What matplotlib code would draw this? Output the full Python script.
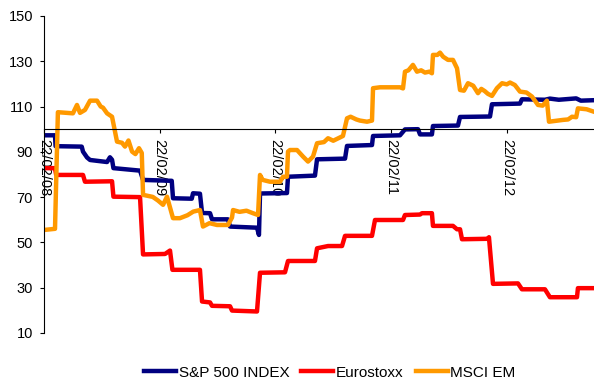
import matplotlib
matplotlib.use('Agg')
import matplotlib.pyplot as plt

plt.rcParams['font.family'] = ['Liberation Sans', 'DejaVu Sans']

# x = years since 22/02/08
tick_labels = ['22/02/08', '22/02/09', '22/02/10', '22/02/11', '22/02/12']
tick_pos = [0, 1, 2, 3, 4]

spx_t = [0, 0.095, 0.10, 0.326, 0.337, 0.372, 0.398, 0.545, 0.570, 0.588, 0.60, 0.830, 0.856,
         1.104, 1.115, 1.277, 1.288, 1.348, 1.366, 1.435, 1.452, 1.590, 1.608, 1.841, 1.858,
         1.867, 2.100, 2.109, 2.342, 2.360, 2.602, 2.619, 2.835, 2.844, 3.077, 3.120, 3.233,
         3.250, 3.353, 3.362, 3.578, 3.596, 3.855, 3.872, 4.114, 4.131, 4.330, 4.373, 4.45,
         4.60, 4.64, 4.754]
spx_v = [97.3, 97.3, 92.5, 92.3, 90.1, 87.5, 86.4, 85.5, 87.6, 86.5, 82.8, 81.7, 77.6,
         77.2, 69.5, 69.3, 71.7, 71.5, 63.0, 62.9, 60.2, 60.2, 57.0, 56.5, 53.3,
         71.6, 71.8, 79.0, 79.5, 86.7, 87.0, 92.6, 93.0, 97.0, 97.3, 99.9, 100.0,
         97.7, 97.7, 101.4, 101.6, 105.4, 105.6, 111.0, 111.3, 113.2, 113.0, 113.5, 113.0,
         113.6, 112.6, 112.8]

euro_t = [0, 0.095, 0.105, 0.337, 0.354, 0.588, 0.60, 0.830, 0.856, 1.046, 1.089, 1.110,
          1.348, 1.366, 1.435, 1.452, 1.608, 1.625, 1.841, 1.867, 2.083, 2.109, 2.342, 2.360,
          2.455, 2.576, 2.602, 2.835, 2.861, 3.103, 3.120, 3.250, 3.267, 3.353, 3.362, 3.535,
          3.570, 3.596, 3.613, 3.837, 3.846, 3.881, 4.097, 4.131, 4.330, 4.373, 4.607, 4.615,
          4.754]
euro_v = [82.8, 82.8, 79.8, 79.8, 76.8, 77.0, 70.2, 70.0, 44.7, 44.9, 46.4, 37.9,
          37.9, 23.9, 23.5, 22.0, 21.8, 19.9, 19.5, 36.6, 36.8, 41.8, 41.8, 47.4,
          48.4, 48.4, 52.9, 52.9, 59.9, 59.9, 62.1, 62.3, 62.9, 62.9, 57.3, 57.3,
          55.8, 55.8, 51.4, 51.6, 52.3, 31.7, 31.9, 29.3, 29.3, 25.8, 25.8, 29.8,
          29.8]

em_t = [0, 0.095, 0.12, 0.25, 0.285, 0.311, 0.354, 0.398, 0.458, 0.49, 0.51, 0.545, 0.588,
        0.631, 0.674, 0.70, 0.73, 0.761, 0.79, 0.821, 0.845, 0.856, 0.94, 0.985, 1.029, 1.063,
        1.115, 1.175, 1.24, 1.29, 1.348, 1.374, 1.43, 1.495, 1.590, 1.625, 1.634, 1.69, 1.75,
        1.806, 1.850, 1.867, 1.89, 1.953, 2.040, 2.066, 2.100, 2.109, 2.126, 2.187, 2.239,
        2.282, 2.325, 2.360, 2.42, 2.455, 2.50, 2.584, 2.619, 2.65, 2.70, 2.731, 2.792, 2.835,
        2.844, 2.904, 3.077, 3.103, 3.120, 3.15, 3.189, 3.224, 3.26, 3.293, 3.33, 3.353, 3.362,
        3.40, 3.423, 3.45, 3.492, 3.535, 3.570, 3.596, 3.63, 3.665, 3.71, 3.751, 3.78, 3.81,
        3.837, 3.872, 3.915, 3.959, 4.0, 4.028, 4.07, 4.114, 4.17, 4.218, 4.270, 4.31, 4.347,
        4.365, 4.41, 4.486, 4.53, 4.564, 4.60, 4.615, 4.69, 4.754]
em_v = [55.5, 56.0, 107.5, 107.0, 110.7, 107.2, 108.5, 112.6, 112.6, 110.0, 109.5, 107.0, 105.5,
        94.5, 94.0, 92.3, 95.0, 90.1, 89.0, 91.6, 89.5, 71.0, 70.1, 68.5, 66.6, 70.2,
        60.7, 60.7, 62.0, 63.6, 64.3, 57.0, 58.5, 57.7, 57.7, 61.0, 64.3, 63.5, 64.0,
        62.9, 62.1, 79.8, 77.6, 76.8, 76.8, 79.0, 79.0, 90.1, 90.8, 90.8, 87.9,
        85.7, 87.9, 93.8, 94.3, 96.0, 94.9, 97.0, 104.8, 105.5, 104.3, 103.8, 103.3, 103.8,
        118.1, 118.5, 118.5, 118.0, 125.4, 126.0, 128.4, 125.4, 126.0, 125.0, 125.4, 124.7, 132.8,
        132.8, 133.8, 132.0, 130.6, 130.6, 126.9, 117.3, 117.0, 120.3, 119.2, 115.9, 117.8, 116.8,
        115.6, 114.7, 118.1, 120.3, 119.8, 120.6, 119.5, 116.6, 116.2, 114.4, 110.7, 110.4, 112.6,
        103.3, 103.6, 104.1, 104.3, 105.5, 105.3, 109.2, 108.8, 107.7]

fig = plt.figure(figsize=(5.94, 3.80), dpi=100)
ax = fig.add_axes([0.0741, 0.1237, 0.9259, 0.8343])

ax.plot(spx_t, spx_v, color='#000080', lw=3.2, label='S&P 500 INDEX', solid_joinstyle='round')
ax.plot(euro_t, euro_v, color='#ff0000', lw=3.2, label='Eurostoxx', solid_joinstyle='round')
ax.plot(em_t, em_v, color='#ff9900', lw=3.2, label='MSCI EM', solid_joinstyle='round')

ax.set_xlim(0, 4.754)
ax.set_ylim(10, 150)
ax.set_yticks(range(10, 151, 20))

ax.spines['top'].set_visible(False)
ax.spines['right'].set_visible(False)
ax.spines['bottom'].set_position(('data', 100))
ax.spines['bottom'].set_linewidth(0.8)
ax.spines['left'].set_linewidth(0.8)

ax.set_xticks(tick_pos)
ax.set_xticklabels(tick_labels, rotation=-90, va='top', ha='center')
ax.tick_params(axis='x', direction='out', length=3, pad=4, labelsize=10.5)
ax.tick_params(axis='y', direction='out', length=3, pad=5, labelsize=10.5)

fig.legend(loc='lower center', bbox_to_anchor=(0.555, -0.035), ncol=3, frameon=False,
           fontsize=11, handlelength=2.1, handletextpad=0.15, columnspacing=0.8)

fig.savefig('out.png', dpi=100)
